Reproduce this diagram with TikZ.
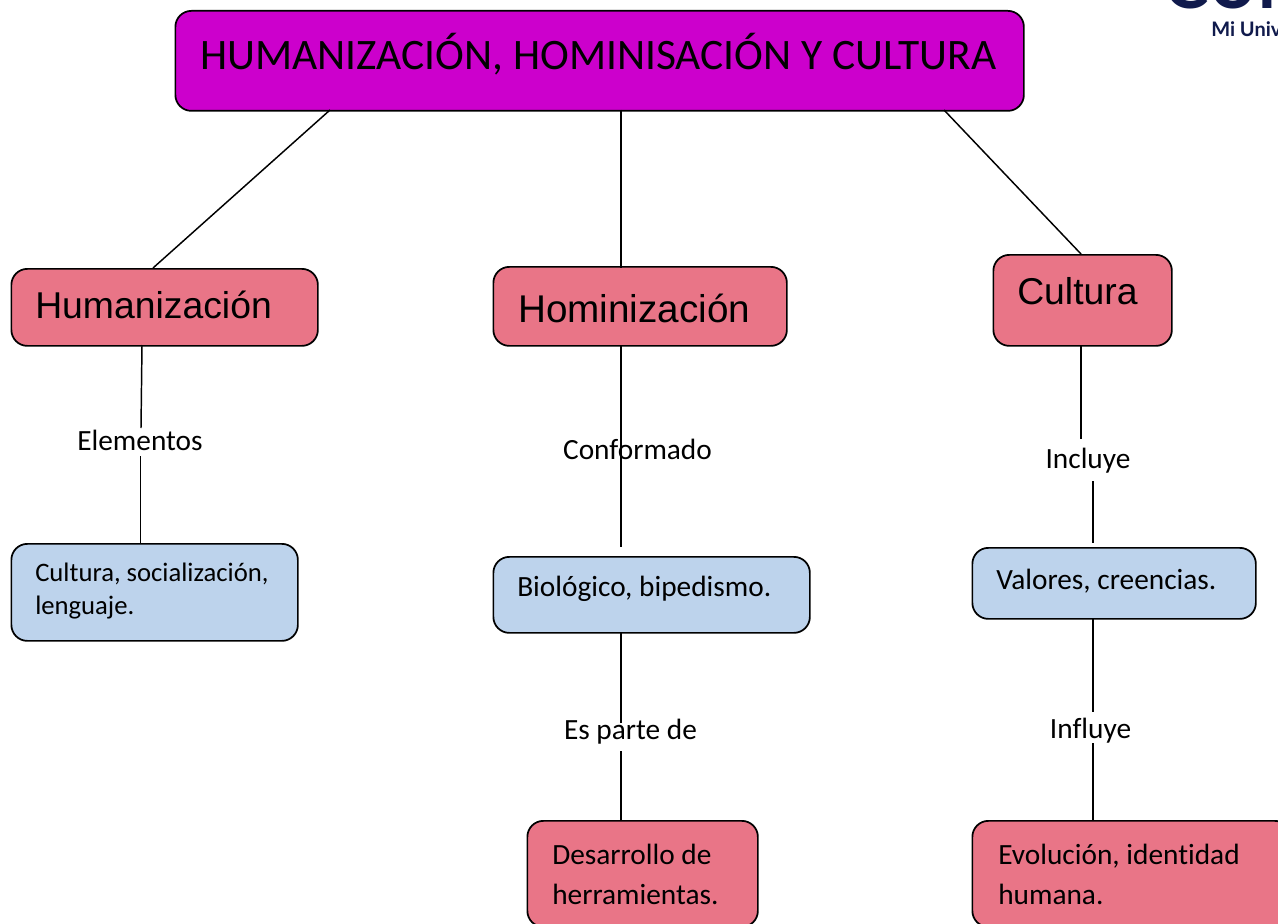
\documentclass[tikz,border=0pt]{standalone}
\usepackage{fontspec}
\setmainfont[Ligatures=NoCommon]{Carlito}
\newfontfamily\arialf{Liberation Sans}
\newfontfamily\logof{Lato}
\definecolor{titlec}{HTML}{CC00CC}
\definecolor{rosec}{HTML}{E97587}
\definecolor{bluec}{HTML}{BDD3EC}
\definecolor{navyc}{HTML}{101A4C}
\tikzset{
 x=0.75pt,y=-0.75pt,
 boxb/.style={draw=black,line width=1.3pt,rounded corners=12pt,inner sep=0pt,anchor=north west},
 rosebox/.style={boxb,fill=rosec},
 bluebox/.style={boxb,fill=bluec},
 titlebox/.style={boxb,fill=titlec},
 link/.style={draw=black,line width=1.1pt},
 txt/.style={anchor=west,inner sep=0pt,align=left,font=\fontsize{22pt}{30pt}\selectfont},
 txtsmall/.style={anchor=west,inner sep=0pt,align=left,font=\fontsize{20pt}{25pt}\selectfont},
 head/.style={anchor=west,inner sep=0pt,font=\arialf\fontsize{28pt}{30pt}\selectfont},
 labn/.style={inner sep=0pt,font=\fontsize{22pt}{26pt}\selectfont},
}
\newcommand{\bx}[6]{\node[#6,minimum width=#4*0.75pt-#2*0.75pt,minimum height=#5*0.75pt-#3*0.75pt] (#1) at (#2,#3) {};}
\begin{document}
\begin{tikzpicture}
\useasboundingbox (0,0) rectangle (1278,924);
\begin{scope}
\clip (0,0) rectangle (1278,924);
\fill[white] (0,0) rectangle (1278,924);
\bx{top}{174.5}{10}{1023}{110}{titlebox}
\bx{hum}{10.5}{268}{317}{345}{rosebox}
\bx{hom}{492.5}{266}{786}{345}{rosebox}
\bx{cul}{992.5}{254}{1171}{345}{rosebox}
\bx{soc}{10.5}{543}{297}{640}{bluebox}
\bx{bio}{492.5}{556}{809}{632}{bluebox}
\bx{val}{971.5}{547}{1255}{618}{bluebox}
\bx{des}{526.5}{820}{757}{926}{rosebox}
\bx{evo}{971.5}{820}{1290}{926}{rosebox}
\node[anchor=west,inner sep=0pt,font=\fontsize{32.6pt}{36pt}\selectfont] (ttop) at (200,54) {HUMANIZACIÓN, HOMINISACIÓN Y CULTURA};
\node[head] (thum) at (35,305) {Humanización};
\node[head,font=\arialf\fontsize{29pt}{30pt}\selectfont] (thom) at (518,308) {Hominización};
\node[head] (tcul) at (1017,291) {Cultura};
\node[txtsmall] (tsoc) at (35,591) {Cultura, socialización,\\lenguaje.};
\node[txt] (tbio) at (517,589) {Biológico, bipedismo.};
\node[txt] (tval) at (996,581) {Valores, creencias.};
\node[txt] (tdes) at (552,874) {Desarrollo de\\herramientas.};
\node[txt] (tevo) at (998,874) {Evolución, identidad\\humana.};
\coordinate (a1) at (330,110);\coordinate (a2) at (153,268);
\coordinate (b1) at (621,110);\coordinate (b2) at (621,268);
\coordinate (c1) at (944,110);\coordinate (c2) at (1081,254);
\coordinate (d1) at (142,345);\coordinate (d2) at (141,428);
\coordinate (d3) at (140.5,456);\coordinate (d4) at (140.5,543);
\coordinate (e1) at (621,345);\coordinate (e2) at (621,547);
\coordinate (f1) at (621,632);\coordinate (f2) at (621,723);
\coordinate (f3) at (621,751);\coordinate (f4) at (621,820);
\coordinate (g1) at (1081,345);\coordinate (g2) at (1081,439);
\coordinate (g3) at (1093,481);\coordinate (g4) at (1093,543);
\coordinate (h1) at (1093,618);\coordinate (h2) at (1093,712);
\coordinate (h3) at (1093,743);\coordinate (h4) at (1093,820);
\draw[link] (a1)--(a2);
\draw[link] (b1)--(b2);
\draw[link] (c1)--(c2);
\draw[link] (d1)--(d2);
\draw[link] (d3)--(d4);
\draw[link] (e1)--(e2);
\draw[link] (f1)--(f2);
\draw[link] (f3)--(f4);
\draw[link] (g1)--(g2);
\draw[link] (g3)--(g4);
\draw[link] (h1)--(h2);
\draw[link] (h3)--(h4);
\node[labn] (l1) at (140,440) {Elementos};
\node[labn] (l2) at (637.5,449) {Conformado};
\node[labn] (l3) at (630.5,732) {Es parte de};
\node[labn] (l4) at (1088,461) {Incluye};
\node[labn] (l5) at (1090.5,731) {Influye};
\node[anchor=west,inner sep=0pt,text=navyc,font=\logof\bfseries\fontsize{15pt}{16pt}\selectfont] (lg2) at (1211,29) {Mi Univ};
\node[anchor=south west,inner sep=0pt,text=navyc,font=\logof\bfseries\fontsize{50pt}{50pt}\selectfont] (lg1) at (1164,9) {CUI};
\end{scope}
\end{tikzpicture}
\end{document}
